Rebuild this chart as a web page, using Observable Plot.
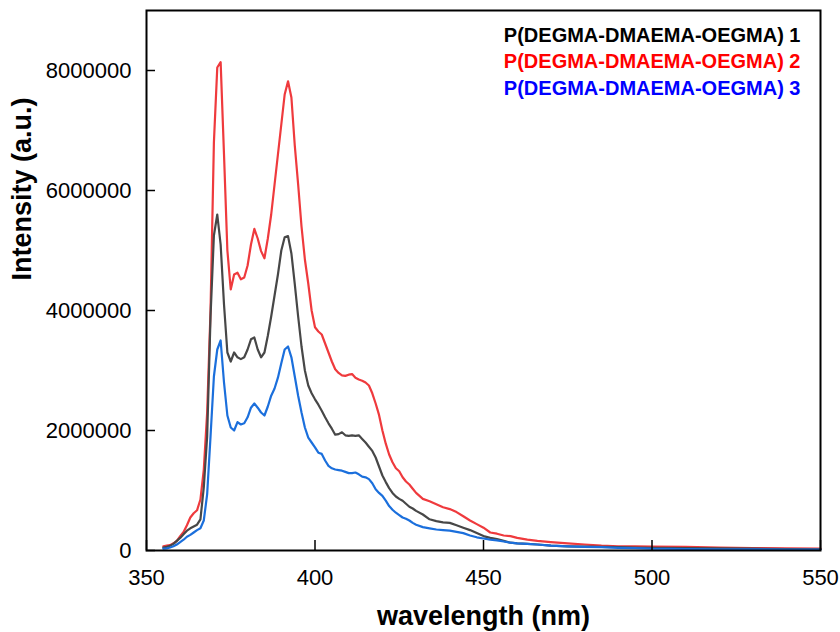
<!DOCTYPE html>
<html><head><meta charset="utf-8">
<script src="https://cdn.jsdelivr.net/npm/d3@7"></script>
<script src="https://cdn.jsdelivr.net/npm/@observablehq/plot@0.6"></script>
<style>body{margin:0;background:#fff;}</style>
</head><body><div id="chart"></div>
<script>
// wavelength (nm)
const wavelength = [
  355,356,357,358,359,360,361,362,363,364,365,366,367,368,369,370,371,372,373,374,
  375,376,377,378,379,380,381,382,383,384,385,386,387,388,389,390,391,392,393,394,
  395,396,397,398,399,400,401,402,403,404,405,406,407,408,409,410,411,412,413,414,
  415,416,417,418,419,420,421,422,423,424,425,426,427,428,429,430,
  432,434,436,438,440,442,444,446,448,450,452,454,456,458,460,
  463,466,470,475,480,485,490,495,500,510,520,530,540,550
];
// intensities in millions (a.u.)
const series1 = [ // P(DEGMA-DMAEMA-OEGMA) 1
  0.05,0.06,0.08,0.11,0.16,0.21,0.27,0.33,0.37,0.40,0.43,0.52,1.05,1.9,3.9,5.25,5.6,5.1,4.1,3.3,
  3.15,3.3,3.22,3.19,3.22,3.35,3.52,3.55,3.35,3.22,3.3,3.58,3.9,4.25,4.6,5.0,5.22,5.24,4.95,4.44,
  3.9,3.4,3.0,2.75,2.62,2.52,2.43,2.33,2.22,2.12,2.03,1.93,1.94,1.97,1.92,1.91,1.92,1.91,1.92,1.86,
  1.80,1.73,1.66,1.55,1.40,1.25,1.14,1.04,0.96,0.90,0.86,0.83,0.78,0.73,0.70,0.66,
  0.60,0.52,0.49,0.47,0.46,0.42,0.38,0.34,0.29,0.24,0.21,0.19,0.16,0.13,0.12,
  0.11,0.10,0.08,0.07,0.065,0.06,0.055,0.05,0.045,0.04,0.035,0.03,0.025,0.02
];
const series2 = [ // P(DEGMA-DMAEMA-OEGMA) 2
  0.07,0.08,0.09,0.12,0.16,0.24,0.31,0.42,0.55,0.62,0.67,0.85,1.35,2.3,4.0,6.8,8.05,8.14,6.6,5.0,
  4.35,4.6,4.63,4.52,4.55,4.75,5.1,5.36,5.2,4.99,4.87,5.2,5.6,6.1,6.6,7.1,7.6,7.82,7.55,6.75,
  6.1,5.4,4.85,4.45,4.0,3.72,3.65,3.6,3.45,3.3,3.15,3.02,2.96,2.92,2.91,2.93,2.94,2.88,2.85,2.83,
  2.80,2.75,2.62,2.45,2.26,2.0,1.78,1.6,1.47,1.37,1.32,1.22,1.15,1.10,1.03,0.96,
  0.86,0.82,0.77,0.72,0.69,0.64,0.57,0.50,0.44,0.38,0.30,0.28,0.25,0.24,0.21,
  0.18,0.16,0.14,0.12,0.10,0.08,0.07,0.07,0.065,0.06,0.05,0.04,0.035,0.03
];
const series3 = [ // P(DEGMA-DMAEMA-OEGMA) 3
  0.03,0.035,0.05,0.07,0.10,0.14,0.18,0.23,0.26,0.30,0.34,0.37,0.5,0.94,1.9,2.9,3.35,3.5,2.8,2.25,
  2.05,2.0,2.14,2.1,2.12,2.22,2.38,2.45,2.38,2.3,2.25,2.4,2.58,2.7,2.88,3.12,3.35,3.4,3.22,2.9,
  2.58,2.3,2.05,1.88,1.8,1.72,1.63,1.61,1.5,1.41,1.37,1.35,1.34,1.33,1.31,1.29,1.29,1.30,1.27,1.23,
  1.22,1.19,1.12,1.02,0.96,0.91,0.83,0.74,0.68,0.63,0.59,0.55,0.53,0.50,0.46,0.43,
  0.39,0.37,0.35,0.34,0.33,0.31,0.29,0.25,0.22,0.20,0.18,0.17,0.15,0.13,0.12,
  0.11,0.10,0.08,0.07,0.06,0.055,0.045,0.04,0.03,0.025,0.02,0.02,0.015,0.015
];
const seriesNames = ["P(DEGMA-DMAEMA-OEGMA) 1","P(DEGMA-DMAEMA-OEGMA) 2","P(DEGMA-DMAEMA-OEGMA) 3"];
const lineColors = ["#474747","#ef3a3d","#1b6fdc"];
const legendColors = ["#000000","#ff0000","#0000ff"];
const xTicks = [350,400,450,500,550];
const yTicks = [0,2000000,4000000,6000000,8000000];
const xTitle = "wavelength (nm)";
const yTitle = "Intensity (a.u.)";

const rows = [];
const drawOrder = [1,0,2];
drawOrder.forEach(i => {
  const vals = [series1, series2, series3][i];
  vals.forEach((v, j) => rows.push({wl: wavelength[j], v: v * 1e6, s: seriesNames[i]}));
});

const W = 840, H = 632, mL = 146, mR = 20, mT = 10, mB = 82;
const plotW = W - mL - mR, plotH = H - mT - mB;

const chart = Plot.plot({
  width: W, height: H,
  marginLeft: mL, marginRight: mR, marginTop: mT, marginBottom: mB,
  style: {fontFamily: "'Liberation Sans', Arial, sans-serif", background: "white", overflow: "visible", color: "black"},
  x: {domain: [350, 550]},
  y: {domain: [0, 9000000]},
  color: {domain: seriesNames, range: lineColors},
  marks: [
    Plot.line(rows, {x: "wl", y: "v", z: "s", stroke: "s", strokeWidth: 2.2}),
    Plot.gridX(xTicks, {stroke: "black", strokeOpacity: 1, strokeWidth: 1.5, insetTop: plotH - 10}),
    Plot.gridY(yTicks, {stroke: "black", strokeOpacity: 1, strokeWidth: 1.5, insetRight: plotW - 9}),
    Plot.axisX(xTicks, {tickSize: 0, tickPadding: 19, fontSize: 22, label: null}),
    Plot.axisY(yTicks, {tickSize: 0, tickPadding: 15, fontSize: 22, label: null, tickFormat: d => String(d)}),
    Plot.frame({stroke: "black", strokeWidth: 2}),
    Plot.text([xTitle], {text: d => d, frameAnchor: "bottom", dy: 66, fontSize: 27, fontWeight: "bold", lineAnchor: "middle"}),
    Plot.text([yTitle], {text: d => d, frameAnchor: "left", dx: -124, rotate: -90, fontSize: 27, fontWeight: "bold", lineAnchor: "middle"}),
    ...seriesNames.map((name, i) => Plot.text([name], {
      text: d => d, frameAnchor: "top-right", dx: -20, dy: 25 + i * 26.5,
      textAnchor: "end", lineAnchor: "middle", fontSize: 20, fontWeight: "bold", fill: legendColors[i]
    }))
  ]
});
document.getElementById("chart").appendChild(chart);
</script>
</body></html>
